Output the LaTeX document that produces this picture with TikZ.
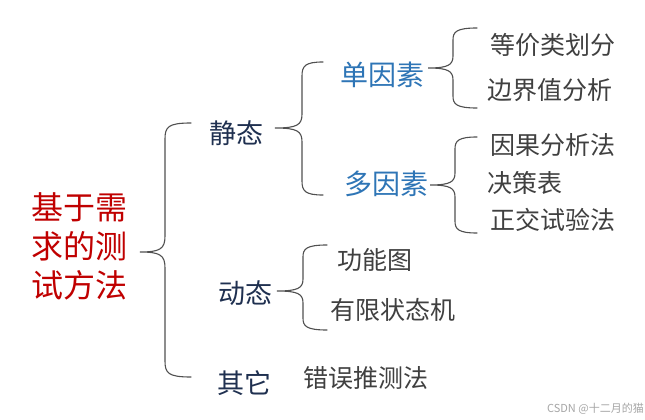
\documentclass[tikz,border=0pt]{standalone}
\usepackage{fontspec}
\setmainfont{Noto Sans CJK SC}
\definecolor{titlered}{HTML}{C00000}
\definecolor{lvlnavy}{HTML}{1F3050}
\definecolor{facblue}{HTML}{2E75B6}
\definecolor{leafgray}{HTML}{404040}
\definecolor{bracegray}{HTML}{505050}
\newcommand\mybrace[7]{% tip x, tip y, vertical x, top y, bottom y, end x, radius
  \draw[bracestyle] (#6,#4) .. controls ({#3+3},#4) and (#3,{#4+4}) .. (#3,{#4+#7})
    -- (#3,{#2-#7}) .. controls (#3,{#2-3}) and ({#3-5},#2) .. (#1,#2)
    .. controls ({#3-5},#2) and (#3,{#2+3}) .. (#3,{#2+#7})
    -- (#3,{#5-#7}) .. controls (#3,{#5-4}) and ({#3+3},#5) .. (#6,#5);}
\begin{document}
\begin{tikzpicture}[x=1pt,y=-1pt,
  bracestyle/.style={draw=bracegray,line width=1.1pt,line cap=round},
  title/.style={text=titlered,font=\fontsize{32}{39}\selectfont,align=center,inner sep=0},
  lvl/.style={text=lvlnavy,font=\fontsize{27}{30}\selectfont,anchor=west,inner sep=0},
  fac/.style={text=facblue,font=\fontsize{28}{30}\selectfont,anchor=west,inner sep=0},
  leaf/.style={text=leafgray,font=\fontsize{25}{28}\selectfont,anchor=west,inner sep=0},
  wmark/.style={text=gray!70,font=\fontsize{11}{12}\selectfont,anchor=east,inner sep=0}]
\fill[white] (0,0) rectangle (645,420);
\useasboundingbox (0,0) rectangle (645,420);

\node[title] (root) at (79,246) {基于需\\求的测\\试方法};

\node[lvl] (static) at (209,133) {静态};
\node[lvl] (dynamic) at (218,293) {动态};
\node[lvl] (other) at (217,383) {其它};

\node[fac] (single) at (340,75) {单因素};
\node[fac] (multi) at (344,184) {多因素};

\node[leaf] (l1) at (490,45) {等价类划分};
\node[leaf] (l2) at (487,90) {边界值分析};
\node[leaf] (l3) at (490,145) {因果分析法};
\node[leaf] (l4) at (487,183) {决策表};
\node[leaf] (l5) at (490,220) {正交试验法};
\node[leaf] (l6) at (337,260) {功能图};
\node[leaf] (l7) at (330,310) {有限状态机};
\node[leaf] (l8) at (303,378) {错误推测法};

\node[wmark] (wm) at (644,409) {CSDN @十二月的猫};

% braces
\mybrace{140}{252}{165}{123}{377}{191}{16}
\mybrace{275}{128}{302}{62}{195}{323}{14}
\mybrace{428}{68}{453}{28}{108}{477}{12}
\mybrace{430}{185}{455}{137}{233}{477}{12}
\mybrace{277}{291}{303}{245}{330}{327}{12}
\end{tikzpicture}
\end{document}
